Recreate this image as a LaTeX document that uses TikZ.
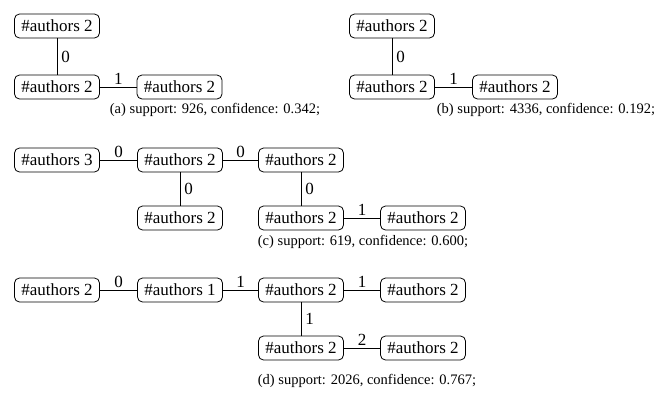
\documentclass[tikz,border=0pt]{standalone}
\usepackage{fontspec}
\setmainfont{Liberation Serif}
\begin{document}
\begin{tikzpicture}[x=1pt,y=-1pt,
  box/.style={draw,rounded corners=5pt,minimum width=85pt,minimum height=24pt,inner xsep=4pt,inner ysep=2pt,font=\rmfamily\fontsize{17}{20}\selectfont,line width=0.8pt},
  edge/.style={line width=0.8pt},
  lab/.style={font=\rmfamily\fontsize{17}{20}\selectfont,inner sep=2pt},
  vlab/.style={lab,right,inner xsep=4pt},
  captext/.style={font=\rmfamily\fontsize{14.5}{17}\selectfont,inner sep=0pt}]
\useasboundingbox (0,0) rectangle (657,394);
% (a)
\node[box] (a1) at (57,26) {\#authors 2};
\node[box] (a2) at (57,87) {\#authors 2};
\node[box] (a3) at (179.5,87) {\#authors 2};
\draw[edge] (a1) -- node[vlab] {0} (a2);
\draw[edge] (a2) -- node[lab,above] {1} (a3);
\node[captext] (ca) at (215,110) {(a) support: 926, confidence: 0.342;};
% (b)
\node[box] (b1) at (392,26) {\#authors 2};
\node[box] (b2) at (392,87) {\#authors 2};
\node[box] (b3) at (515,87) {\#authors 2};
\draw[edge] (b1) -- node[vlab] {0} (b2);
\draw[edge] (b2) -- node[lab,above] {1} (b3);
\node[captext] (cb) at (546,110) {(b) support: 4336, confidence: 0.192;};
% (c)
\node[box] (c1) at (57,160) {\#authors 3};
\node[box] (c2) at (180,160) {\#authors 2};
\node[box] (c3) at (301,160) {\#authors 2};
\node[box] (c4) at (180,218) {\#authors 2};
\node[box] (c5) at (301,218) {\#authors 2};
\node[box] (c6) at (423,218) {\#authors 2};
\draw[edge] (c1) -- node[lab,above] {0} (c2);
\draw[edge] (c2) -- node[lab,above] {0} (c3);
\draw[edge] (c2) -- node[vlab] {0} (c4);
\draw[edge] (c3) -- node[vlab] {0} (c5);
\draw[edge] (c5) -- node[lab,above] {1} (c6);
\node[captext] (cc) at (363,242) {(c) support: 619, confidence: 0.600;};
% (d)
\node[box] (d1) at (57,290) {\#authors 2};
\node[box] (d2) at (180,290) {\#authors 1};
\node[box] (d3) at (301,290) {\#authors 2};
\node[box] (d4) at (423,290) {\#authors 2};
\node[box] (d5) at (301,348) {\#authors 2};
\node[box] (d6) at (423,348) {\#authors 2};
\draw[edge] (d1) -- node[lab,above] {0} (d2);
\draw[edge] (d2) -- node[lab,above] {1} (d3);
\draw[edge] (d3) -- node[lab,above] {1} (d4);
\draw[edge] (d3) -- node[vlab] {1} (d5);
\draw[edge] (d5) -- node[lab,above] {2} (d6);
\node[captext] (cd) at (367,381) {(d) support: 2026, confidence: 0.767;};
\end{tikzpicture}
\end{document}
